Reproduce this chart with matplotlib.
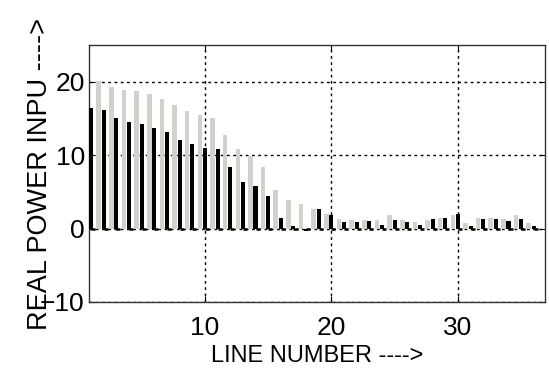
import numpy as np
import matplotlib.pyplot as plt

# line numbers and the two power series
line_no = np.arange(1, 37)
power_a = [16.5, 16.1, 15.1, 14.5, 14.3, 13.7, 13.1, 12.1, 11.5, 11.0,
           10.8, 8.4, 6.4, 5.8, 4.4, 1.5, 0.3, -0.4, 2.6, 1.8,
           0.9, 0.9, 1.0, 0.5, 1.1, 0.9, 0.5, 1.3, 1.5, 2.0,
           0.4, 1.3, 1.3, 1.0, 1.3, 0.4]
power_b = [20.1, 19.3, 18.9, 18.8, 18.4, 17.6, 16.8, 16.0, 15.5, 15.1,
           12.8, 10.8, 9.9, 8.4, 5.2, 3.9, 3.4, 2.7, 2.0, 1.3,
           1.2, 1.1, 1.1, 1.8, 1.1, 0.9, 1.2, 1.5, 1.8, 0.8,
           1.5, 1.5, 1.3, 1.8, 0.8, 0.0]
x_ticks = [10, 20, 30]
y_ticks = [-10, 0, 10, 20]

plt.rcParams['font.family'] = ['Liberation Sans', 'DejaVu Sans']

fig = plt.figure(figsize=(5.49, 3.70), dpi=100)
ax = fig.add_axes([0.162, 0.184, 0.831, 0.694])

ax.bar(line_no + 0.6, power_b, width=0.36, color='#d3d1cb', zorder=2)
ax.bar(line_no, power_a, width=0.32, color='black', zorder=3)
# little baseline stubs next to each black bar
ax.hlines(np.zeros(len(line_no)), line_no, line_no + 0.32, color='black',
          linewidth=1.8, zorder=3)

ax.set_xlim(0.83, 36.9)
ax.set_ylim(-10, 25)
ax.set_xticks(x_ticks)
ax.set_yticks(y_ticks)
ax.grid(True, color='black', linestyle=(0, (2, 2.5)), linewidth=1.0, zorder=1)
ax.tick_params(direction='in', top=True, right=True, length=4,
               labelsize=19)
ax.tick_params(axis='x', pad=10)
ax.tick_params(axis='y', pad=3)
for s in ax.spines.values():
    s.set_color('#333333')
    s.set_linewidth(1.0)

ax.set_xlabel('LINE NUMBER ---->', fontsize=17, labelpad=4)
ax.set_ylabel('REAL POWER INPU ---->', fontsize=19.5, labelpad=-9)

fig.savefig('out.png', dpi=100)
